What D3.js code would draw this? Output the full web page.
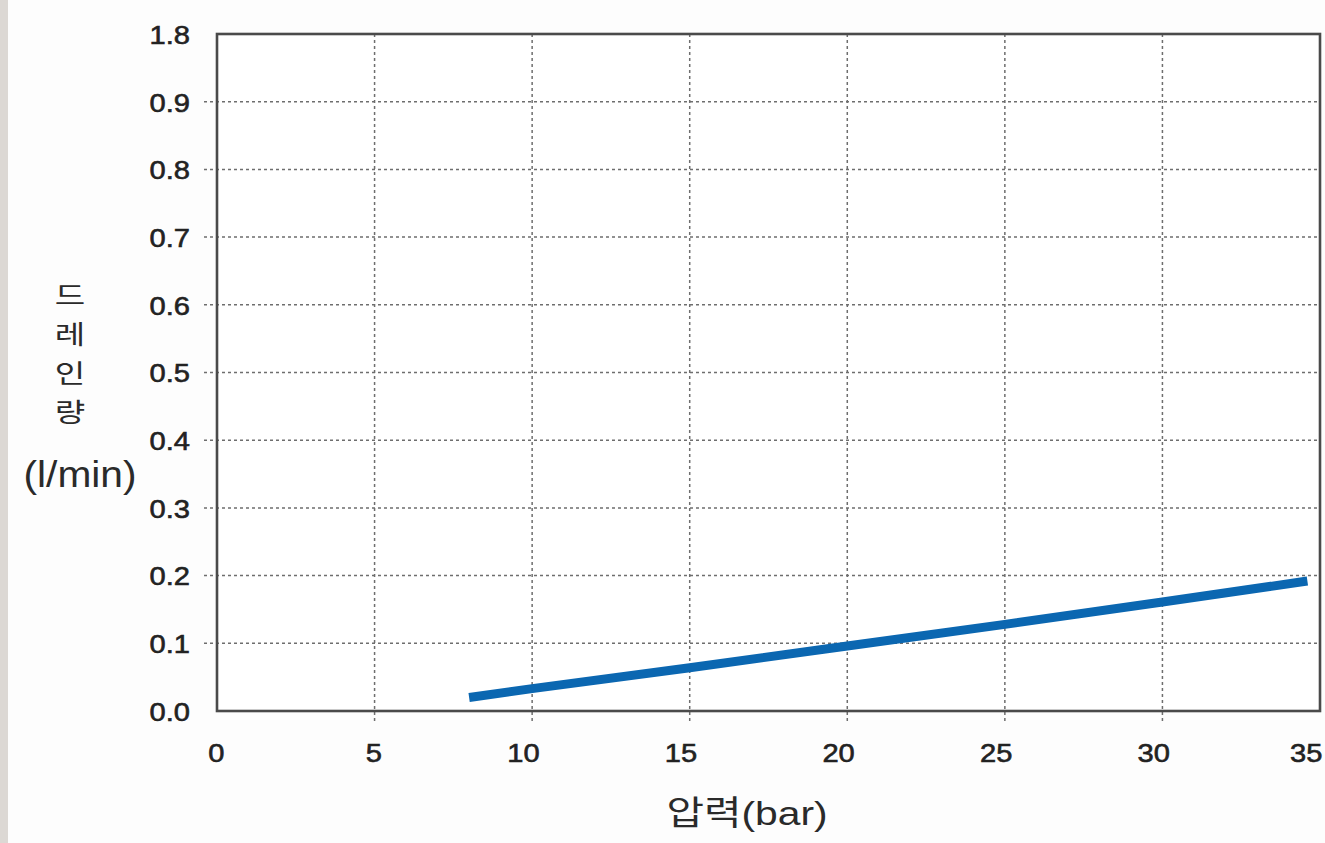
<!DOCTYPE html>
<html><head><meta charset="utf-8">
<script src="https://cdn.jsdelivr.net/npm/d3@7"></script>
<style>
html,body{margin:0;padding:0;background:#fdfdfd;}
svg{display:block;}
</style></head>
<body>
<svg id="chart" width="1325" height="843"></svg>
<script>
// ---- data ----
const pressure = [8, 10, 15, 20, 25, 30, 34.6];          // 압력 (bar)
const drain    = [0.02, 0.033, 0.064, 0.096, 0.128, 0.161, 0.192]; // 드레인량 (l/min)
const xTicks   = [0, 5, 10, 15, 20, 25, 30, 35];
const yTicks   = [0, 0.1, 0.2, 0.3, 0.4, 0.5, 0.6, 0.7, 0.8, 0.9, 1.0];
const yLabels  = ["0.0","0.1","0.2","0.3","0.4","0.5","0.6","0.7","0.8","0.9","1.8"];
const xTitle   = "압력(bar)";
const yTitleChars = ["드","레","인","량"];
const yTitleUnit  = "(l/min)";

// ---- layout ----
const L = 217, R = 1320, T = 34, B = 711;
const svg = d3.select("#chart");
const x = d3.scaleLinear().domain([0, 35]).range([L, R]);
const y = d3.scaleLinear().domain([0, 1.0]).range([B, T]);
const SX = 1.12;
const numFont = "'Liberation Sans', Arial, Helvetica, sans-serif";
const mixFont = "'Liberation Sans', 'Noto Sans CJK KR', sans-serif";
const txt = "#222";

// left gray strip
svg.append("rect").attr("x", 0).attr("y", 0).attr("width", 8).attr("height", 843).attr("fill", "#dcd8d4");

// plot background
svg.append("rect").attr("x", L).attr("y", T).attr("width", R - L).attr("height", B - T).attr("fill", "#ffffff");

// grid lines
const gridColor = "#6e6e6e";
svg.append("g").selectAll("line").data(yTicks.slice(1, -1)).join("line")
  .attr("x1", L - 13).attr("x2", R)
  .attr("y1", d => y(d)).attr("y2", d => y(d))
  .attr("stroke", gridColor).attr("stroke-width", 1.5).attr("stroke-dasharray", "3,3");
svg.append("g").selectAll("line").data(xTicks.slice(1, -1)).join("line")
  .attr("x1", d => x(d)).attr("x2", d => x(d))
  .attr("y1", T).attr("y2", B + 11)
  .attr("stroke", gridColor).attr("stroke-width", 1.5).attr("stroke-dasharray", "3,3");

// frame
svg.append("rect").attr("x", L).attr("y", T).attr("width", R - L).attr("height", B - T)
  .attr("fill", "none").attr("stroke", "#4a4a4a").attr("stroke-width", 2.6);

// y axis labels
const yAxis = svg.append("g").attr("transform", `translate(${L},0)`)
  .call(d3.axisLeft(y).tickValues(yTicks).tickFormat((d, i) => yLabels[i]).tickSize(0));
yAxis.select(".domain").remove();
yAxis.selectAll("text")
  .attr("x", -27 / SX).attr("dy", "0.36em")
  .attr("transform", `scale(${SX},1)`)
  .attr("font-family", numFont).attr("font-size", 26).attr("fill", txt)
  .attr("stroke", txt).attr("stroke-width", 0.6)
  .attr("text-anchor", "end");

// x axis labels
const xAxis = svg.append("g").attr("transform", `translate(0,${B})`)
  .call(d3.axisBottom(x).tickValues(xTicks).tickSize(0));
xAxis.select(".domain").remove();
xAxis.selectAll("text")
  .attr("x", d => (d === 35 ? 2 : 7) / SX).attr("y", 51).attr("dy", 0)
  .attr("transform", `scale(${SX},1)`)
  .attr("font-family", numFont).attr("font-size", 26).attr("fill", txt)
  .attr("stroke", txt).attr("stroke-width", 0.6)
  .attr("text-anchor", "end");

// data line
const line = d3.line().x((d, i) => x(pressure[i])).y(d => y(d));
svg.append("path").datum(drain)
  .attr("d", line)
  .attr("fill", "none").attr("stroke", "#0b67b1").attr("stroke-width", 9)
  .attr("stroke-linecap", "butt").attr("stroke-linejoin", "round");

// x title
svg.append("text")
  .attr("transform", `translate(747,825) scale(1.2,1)`)
  .attr("text-anchor", "middle")
  .attr("font-family", mixFont).attr("font-size", 34).attr("fill", "#2a2a2a")
  .text(xTitle);

// y title (stacked characters)
svg.append("g").selectAll("text").data(yTitleChars).join("text")
  .attr("transform", (d, i) => `translate(70,${295 + i * 39.3}) scale(1.25,1)`)
  .attr("dy", "0.36em")
  .attr("text-anchor", "middle")
  .attr("font-family", "'Noto Sans CJK KR', sans-serif").attr("font-size", 26.5).attr("fill", "#2a2a2a")
  .text(d => d);
svg.append("text")
  .attr("transform", `translate(80,487) scale(1.1,1)`)
  .attr("text-anchor", "middle")
  .attr("font-family", numFont).attr("font-size", 37).attr("fill", "#2a2a2a")
  .text(yTitleUnit);
</script>
</body></html>
